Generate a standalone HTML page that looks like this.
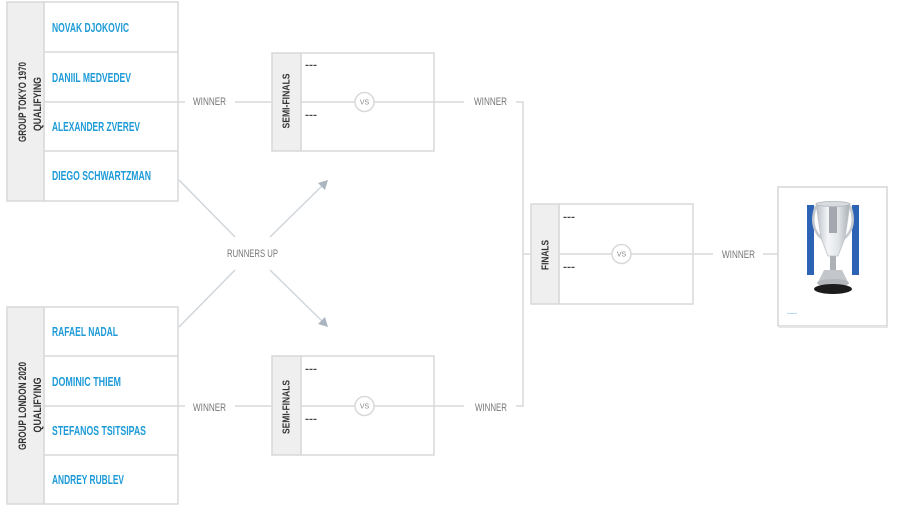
<!DOCTYPE html>
<html><head><meta charset="utf-8"><style>
html,body{margin:0;padding:0;background:#fff;}
svg{display:block;}
text{font-family:"Liberation Sans Narrow","Liberation Sans",sans-serif;}
.nm{fill:#1e9bd7;font-weight:bold;font-size:12.5px;}
.gl{fill:#333;font-weight:bold;font-size:11px;}
.wn{fill:#777;font-size:11px;}
.ds{fill:#444;font-weight:bold;font-size:10px;}
.vs{fill:#888;font-size:7px;}
</style></head><body>
<svg width="900" height="512" viewBox="0 0 900 512" xmlns="http://www.w3.org/2000/svg">
<defs>
  <linearGradient id="cup" x1="0" y1="0" x2="1" y2="0">
    <stop offset="0" stop-color="#b9bec4"/>
    <stop offset="0.35" stop-color="#f4f5f7"/>
    <stop offset="0.65" stop-color="#e2e5e8"/>
    <stop offset="1" stop-color="#a9aeb4"/>
  </linearGradient>
</defs>
<g fill="none" stroke="#d9d9d9" stroke-width="1.5">
  <rect x="44" y="2" width="134" height="199" fill="#fff"/>
  <rect x="7" y="2" width="37" height="199" fill="#efefef"/>
  <line x1="44" y1="52" x2="178" y2="52"/>
  <line x1="44" y1="102" x2="178" y2="102"/>
  <line x1="44" y1="151" x2="178" y2="151"/>
  <rect x="44" y="307" width="134" height="197" fill="#fff"/>
  <rect x="7" y="307" width="37" height="197" fill="#efefef"/>
  <line x1="44" y1="356" x2="178" y2="356"/>
  <line x1="44" y1="406" x2="178" y2="406"/>
  <line x1="44" y1="455" x2="178" y2="455"/>
  <rect x="301" y="53" width="133" height="98" fill="#fff"/>
  <rect x="272" y="53" width="29" height="98" fill="#efefef"/>
  <rect x="301" y="356" width="133" height="99" fill="#fff"/>
  <rect x="272" y="356" width="29" height="99" fill="#efefef"/>
  <rect x="559" y="204" width="134" height="100" fill="#fff"/>
  <rect x="531" y="204" width="28" height="100" fill="#efefef"/>
  <line x1="178" y1="102" x2="185" y2="102"/>
  <line x1="235" y1="102" x2="272" y2="102"/>
  <line x1="178" y1="406" x2="185" y2="406"/>
  <line x1="235" y1="406" x2="272" y2="406"/>
  <line x1="301" y1="102" x2="355" y2="102"/>
  <line x1="374" y1="102" x2="434" y2="102"/>
  <line x1="301" y1="406" x2="355" y2="406"/>
  <line x1="374" y1="406" x2="434" y2="406"/>
  <line x1="434" y1="102" x2="464" y2="102"/>
  <line x1="434" y1="406" x2="464" y2="406"/>
  <polyline points="516,102 523,102 523,406 516,406"/>
  <line x1="523" y1="254" x2="531" y2="254"/>
  <line x1="559" y1="254" x2="612" y2="254"/>
  <line x1="631" y1="254" x2="693" y2="254"/>
  <line x1="693" y1="254" x2="713" y2="254"/>
  <line x1="763" y1="254" x2="778" y2="254"/>
  <circle cx="364.5" cy="102" r="9.5" fill="#fff"/>
  <circle cx="364.5" cy="406" r="9.5" fill="#fff"/>
  <circle cx="621.5" cy="254" r="9.5" fill="#fff"/>
</g>
<g stroke="#cfd6dc" stroke-width="1.5" fill="none">
  <line x1="179" y1="180" x2="235" y2="237"/>
  <line x1="179" y1="327" x2="235" y2="270"/>
  <line x1="270" y1="237" x2="322" y2="186"/>
  <line x1="270" y1="270" x2="322" y2="321"/>
</g>
<g fill="#aab5bf">
  <polygon points="328,180 318,183 325,190"/>
  <polygon points="328,327 318,324 325,317"/>
</g>
<rect x="778" y="187" width="109" height="139" fill="#fff" stroke="#d6d6d6" stroke-width="1.5"/>
<line x1="779" y1="327" x2="888" y2="327" stroke="#e6e6e6" stroke-width="2"/>
<g>
  <rect x="807" y="205" width="7" height="70" fill="#2c63b4"/>
  <rect x="852" y="205" width="7" height="70" fill="#2c63b4"/>
  <path d="M816,206 C810,222 814,236 828,242" fill="none" stroke="#c4c8cd" stroke-width="2.5"/>
  <path d="M850,206 C856,222 852,236 838,242" fill="none" stroke="#c4c8cd" stroke-width="2.5"/>
  <path d="M816,204 L850,204 L845,238 L838,256 L828,256 L821,238 Z" fill="url(#cup)" stroke="#c0c4c9" stroke-width="0.8"/>
  <rect x="829" y="207" width="8" height="26" fill="#a4a8ae"/>
  <ellipse cx="833" cy="204" rx="17" ry="2.5" fill="#d8dbdf" stroke="#b0b4ba" stroke-width="0.8"/>
  <rect x="830" y="256" width="6" height="15" fill="#aeb2b7"/>
  <path d="M824,270 L842,270 L848,282 L818,282 Z" fill="#c3c7cc"/>
  <ellipse cx="833" cy="283" rx="16" ry="4" fill="#b4b8bd"/>
  <ellipse cx="833" cy="289" rx="19" ry="5" fill="#1c1c1c"/>
  <text x="787" y="315" font-size="5" fill="#1e9bd7" textLength="10" lengthAdjust="spacingAndGlyphs">----</text>
</g>
<text class="nm" x="52" y="32" textLength="77" lengthAdjust="spacingAndGlyphs">NOVAK DJOKOVIC</text>
<text class="nm" x="52" y="82" textLength="79" lengthAdjust="spacingAndGlyphs">DANIIL MEDVEDEV</text>
<text class="nm" x="52" y="131" textLength="88" lengthAdjust="spacingAndGlyphs">ALEXANDER ZVEREV</text>
<text class="nm" x="52" y="180" textLength="99" lengthAdjust="spacingAndGlyphs">DIEGO SCHWARTZMAN</text>
<text class="nm" x="52" y="336" textLength="66" lengthAdjust="spacingAndGlyphs">RAFAEL NADAL</text>
<text class="nm" x="52" y="386" textLength="69" lengthAdjust="spacingAndGlyphs">DOMINIC THIEM</text>
<text class="nm" x="52" y="435" textLength="94" lengthAdjust="spacingAndGlyphs">STEFANOS TSITSIPAS</text>
<text class="nm" x="52" y="484" textLength="72" lengthAdjust="spacingAndGlyphs">ANDREY RUBLEV</text>
<text class="gl" transform="translate(26,102) rotate(-90)" text-anchor="middle" textLength="80" lengthAdjust="spacingAndGlyphs">GROUP TOKYO 1970</text>
<text class="gl" transform="translate(41,104) rotate(-90)" text-anchor="middle" textLength="54" lengthAdjust="spacingAndGlyphs">QUALIFYING</text>
<text class="gl" transform="translate(26,406) rotate(-90)" text-anchor="middle" textLength="88" lengthAdjust="spacingAndGlyphs">GROUP LONDON 2020</text>
<text class="gl" transform="translate(41,405) rotate(-90)" text-anchor="middle" textLength="55" lengthAdjust="spacingAndGlyphs">QUALIFYING</text>
<text class="gl" style="font-size:10px" transform="translate(289.5,101) rotate(-90)" text-anchor="middle" textLength="55" lengthAdjust="spacingAndGlyphs">SEMI-FINALS</text>
<text class="gl" style="font-size:10px" transform="translate(289.5,407) rotate(-90)" text-anchor="middle" textLength="54" lengthAdjust="spacingAndGlyphs">SEMI-FINALS</text>
<text class="gl" style="font-size:10px" transform="translate(548.5,255) rotate(-90)" text-anchor="middle" textLength="30" lengthAdjust="spacingAndGlyphs">FINALS</text>
<text class="ds" x="305" y="68" textLength="12" lengthAdjust="spacingAndGlyphs">---</text>
<text class="ds" x="305" y="118" textLength="12" lengthAdjust="spacingAndGlyphs">---</text>
<text class="ds" x="305" y="372" textLength="12" lengthAdjust="spacingAndGlyphs">---</text>
<text class="ds" x="305" y="422" textLength="12" lengthAdjust="spacingAndGlyphs">---</text>
<text class="ds" x="563" y="220" textLength="12" lengthAdjust="spacingAndGlyphs">---</text>
<text class="ds" x="563" y="270" textLength="12" lengthAdjust="spacingAndGlyphs">---</text>
<text class="vs" x="364.5" y="104.5" text-anchor="middle">VS</text>
<text class="vs" x="364.5" y="408.5" text-anchor="middle">VS</text>
<text class="vs" x="621.5" y="256.5" text-anchor="middle">VS</text>
<text class="wn" x="193" y="105" textLength="33" lengthAdjust="spacingAndGlyphs">WINNER</text>
<text class="wn" x="193" y="411" textLength="33" lengthAdjust="spacingAndGlyphs">WINNER</text>
<text class="wn" x="474" y="105" textLength="33" lengthAdjust="spacingAndGlyphs">WINNER</text>
<text class="wn" x="475" y="411" textLength="32" lengthAdjust="spacingAndGlyphs">WINNER</text>
<text class="wn" x="722" y="258" textLength="33" lengthAdjust="spacingAndGlyphs">WINNER</text>
<text class="wn" x="227" y="257" textLength="51" lengthAdjust="spacingAndGlyphs">RUNNERS UP</text>
</svg>
</body></html>
